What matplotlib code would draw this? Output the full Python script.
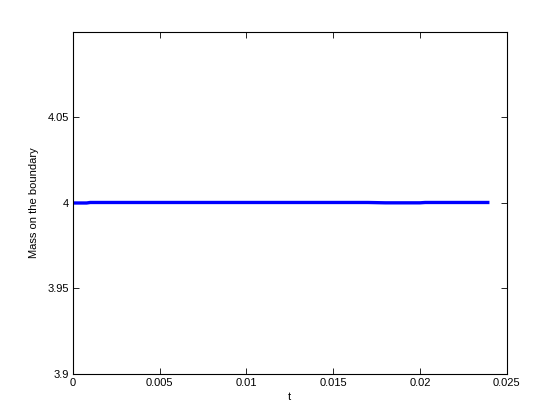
import numpy as np
import matplotlib
matplotlib.use("Agg")
import matplotlib.pyplot as plt

# time samples and boundary mass
t = [0.0, 0.0008, 0.001, 0.002, 0.003, 0.004, 0.005, 0.006, 0.007, 0.008,
     0.009, 0.010, 0.011, 0.012, 0.013, 0.014, 0.015, 0.016, 0.017, 0.018,
     0.019, 0.020, 0.0203, 0.021, 0.022, 0.023, 0.024]
mass = [3.9998, 3.9998, 4.0001, 4.0001, 4.0001, 4.0001, 4.0001, 4.0001, 4.0001, 4.0001,
        4.0001, 4.0001, 4.0001, 4.0001, 4.0001, 4.0001, 4.0001, 4.0001, 4.0001, 3.9999,
        3.9999, 3.9999, 4.0001, 4.0001, 4.0001, 4.0001, 4.0001]

xticks = [0, 0.005, 0.01, 0.015, 0.02, 0.025]
xticklabels = ['0', '0.005', '0.01', '0.015', '0.02', '0.025']
yticks = [3.9, 3.95, 4.0, 4.05]
yticklabels = ['3.9', '3.95', '4', '4.05']

plt.rcParams['font.family'] = ['Liberation Sans', 'DejaVu Sans']

fig = plt.figure(figsize=(5.6, 4.2), dpi=100)
ax = fig.add_axes([0.13, 0.11, 0.775, 0.815])

ax.plot(t, mass, color='#0000ff', linewidth=2.4, solid_capstyle='butt')

ax.set_xlim(0, 0.025)
ax.set_ylim(3.9, 4.1)
ax.set_xticks(xticks)
ax.set_xticklabels(xticklabels)
ax.set_yticks(yticks)
ax.set_yticklabels(yticklabels)
ax.tick_params(direction='in', length=4, width=0.6, labelsize=8,
               top=True, right=True, colors='black', pad=3)
for s in ax.spines.values():
    s.set_linewidth(0.8)

ax.set_xlabel('t', fontsize=8, labelpad=3)
ax.set_ylabel('Mass on the boundary', fontsize=8, labelpad=6)

fig.savefig('out.png', dpi=100)
